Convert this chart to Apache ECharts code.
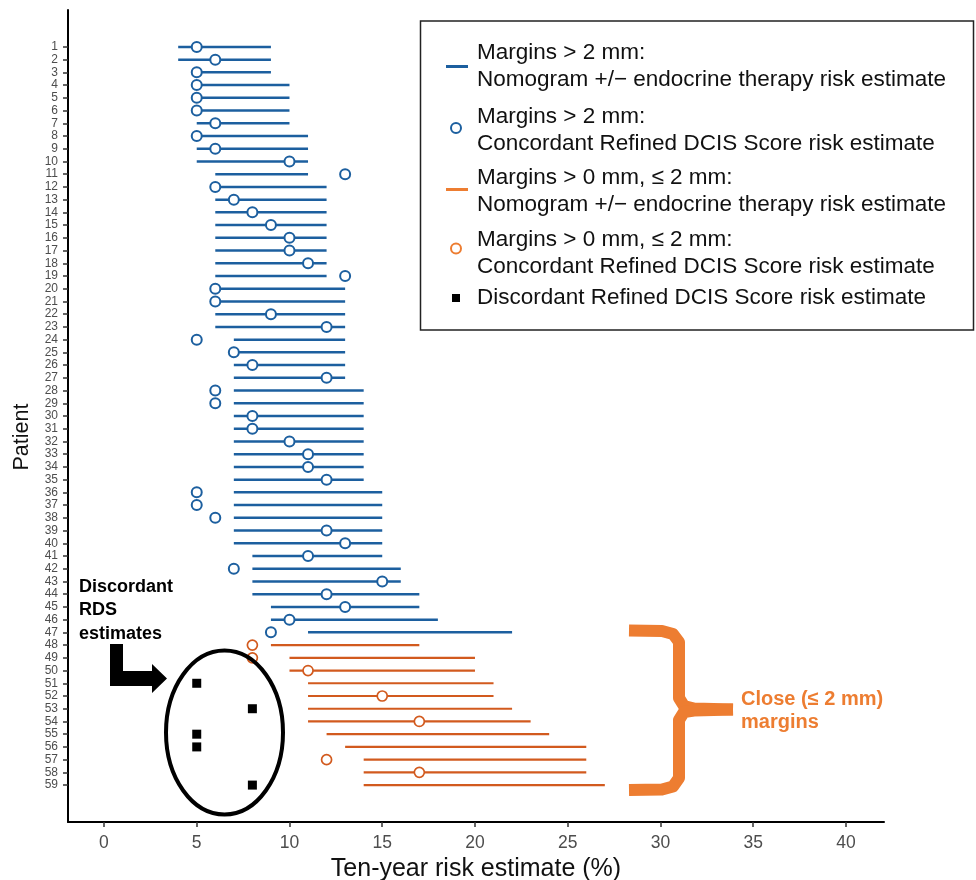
<!DOCTYPE html>
<html>
<head>
<meta charset="utf-8">
<script src="https://cdn.jsdelivr.net/npm/echarts@6/dist/echarts.min.js"></script>
<style>
  html, body { margin: 0; padding: 0; background: #fff; }
  #risk-chart { width: 976px; height: 880px; }
</style>
</head>
<body>
<div id="risk-chart"></div>
<script>
  // patients, nomogram range (+/- endocrine therapy) and Refined DCIS Score
  var patients = [1, 2, 3, 4, 5, 6, 7, 8, 9, 10, 11, 12, 13, 14, 15, 16, 17, 18, 19, 20,
    21, 22, 23, 24, 25, 26, 27, 28, 29, 30, 31, 32, 33, 34, 35, 36, 37, 38, 39, 40,
    41, 42, 43, 44, 45, 46, 47, 48, 49, 50, 51, 52, 53, 54, 55, 56, 57, 58, 59];
  var nomoLow = [4, 4, 5, 5, 5, 5, 5, 5, 5, 5, 6, 6, 6, 6, 6, 6, 6, 6, 6, 6,
    6, 6, 6, 7, 7, 7, 7, 7, 7, 7, 7, 7, 7, 7, 7, 7, 7, 7, 7, 7,
    8, 8, 8, 8, 9, 9, 11, 9, 10, 10, 11, 11, 11, 11, 12, 13, 14, 14, 14];
  var nomoHigh = [9, 9, 9, 10, 10, 10, 10, 11, 11, 11, 11, 12, 12, 12, 12, 12, 12, 12, 12, 13,
    13, 13, 13, 13, 13, 13, 13, 14, 14, 14, 14, 14, 14, 14, 14, 15, 15, 15, 15, 15,
    15, 16, 16, 17, 17, 18, 22, 17, 20, 20, 21, 21, 22, 23, 24, 26, 26, 26, 27];
  var rdsScore = [5, 6, 5, 5, 5, 5, 6, 5, 6, 10, 13, 6, 7, 8, 9, 10, 10, 11, 13, 6,
    6, 9, 12, 5, 7, 8, 12, 6, 6, 8, 8, 10, 11, 11, 12, 5, 5, 6, 12, 13,
    11, 7, 15, 12, 13, 10, 9, 8, 8, 11, 5, 15, 8, 17, 5, 5, 12, 17, 8];
  var closeMarginPatients = [48, 49, 50, 51, 52, 53, 54, 55, 56, 57, 58, 59];
  var discordantPatients = [51, 53, 55, 56, 59];
  var xTicks = [0, 5, 10, 15, 20, 25, 30, 35, 40];

  var BLUE = '#1c5f9f';
  var ORANGE_DARK = '#d25a1e';
  var ORANGE = '#ed7d31';
  var FONT = '"Liberation Sans", Arial, sans-serif';

  var wideRanges = [], closeRanges = [];
  var wideCircles = [], closeCircles = [], discordant = [];
  patients.forEach(function (p, i) {
    var isClose = closeMarginPatients.indexOf(p) >= 0;
    (isClose ? closeRanges : wideRanges).push([nomoLow[i], nomoHigh[i], p]);
    if (discordantPatients.indexOf(p) >= 0) {
      discordant.push([rdsScore[i], p]);
    } else {
      (isClose ? closeCircles : wideCircles).push([rdsScore[i], p]);
    }
  });

  function rangeSeries(data, color, width) {
    return {
      type: 'custom',
      z: 2,
      data: data,
      encode: { x: [0, 1], y: 2 },
      renderItem: function (params, api) {
        var a = api.coord([api.value(0), api.value(2)]);
        var b = api.coord([api.value(1), api.value(2)]);
        return {
          type: 'line',
          shape: { x1: a[0], y1: a[1], x2: b[0], y2: b[1] },
          style: { stroke: color, lineWidth: width }
        };
      }
    };
  }

  function circleSeries(data, color, bw) {
    return {
      type: 'scatter',
      z: 3,
      data: data,
      symbol: 'circle',
      symbolSize: 10,
      itemStyle: { color: '#fff', borderColor: color, borderWidth: bw, opacity: 1 }
    };
  }

  function legendText(x, y, s) {
    return { type: 'text', x: x, y: y, z: 11, style: { text: s, fill: '#111', font: '22.5px ' + FONT, verticalAlign: 'middle' } };
  }

  var chart = echarts.init(document.getElementById('risk-chart'));

  chart.setOption({
    animation: false,
    grid: { left: 68, right: 92, top: 10, bottom: 58, containLabel: false, outerBoundsMode: 'none' },
    xAxis: {
      type: 'value',
      min: -1.94,
      max: 42.05,
      name: 'Ten-year risk estimate (%)',
      nameLocation: 'middle',
      nameGap: 33,
      nameTextStyle: { fontSize: 25, color: '#111', fontFamily: FONT },
      splitLine: { show: false },
      axisLine: { onZero: false, lineStyle: { color: '#000', width: 2 } },
      axisTick: { customValues: xTicks, length: 5, lineStyle: { color: '#333', width: 1.5 } },
      axisLabel: { customValues: xTicks, fontSize: 17.5, color: '#4d4d4d', margin: 12, fontFamily: FONT }
    },
    yAxis: {
      type: 'value',
      inverse: true,
      min: -1.9,
      max: 61.9,
      splitLine: { show: false },
      axisLine: { onZero: false, lineStyle: { color: '#000', width: 2 } },
      axisTick: { customValues: patients, length: 5, lineStyle: { color: '#333', width: 1.5 } },
      axisLabel: { customValues: patients, fontSize: 12, lineHeight: 12, color: '#4d4d4d', margin: 10, fontFamily: FONT, hideOverlap: false }
    },
    series: [
      rangeSeries(wideRanges, BLUE, 2.5),
      rangeSeries(closeRanges, ORANGE_DARK, 2.2),
      circleSeries(wideCircles, BLUE, 2),
      circleSeries(closeCircles, ORANGE_DARK, 1.7),
      {
        type: 'scatter',
        z: 3,
        data: discordant,
        symbol: 'rect',
        symbolSize: 9,
        itemStyle: { color: '#000', opacity: 1 }
      }
    ],
    graphic: [
      // y axis title
      { type: 'text', x: 22, y: 437, rotation: Math.PI / 2, z: 10, style: { text: 'Patient', font: '21.5px ' + FONT, fill: '#111', align: 'center', verticalAlign: 'middle' } },
      // legend box
      { type: 'rect', shape: { x: 420.5, y: 21, width: 553, height: 309 }, style: { fill: '#fff', stroke: '#222', lineWidth: 1.5 }, z: 10 },
      { type: 'line', z: 11, shape: { x1: 446, y1: 66.5, x2: 468, y2: 66.5 }, style: { stroke: BLUE, lineWidth: 3 } },
      legendText(477, 53, 'Margins > 2 mm:'),
      legendText(477, 80, 'Nomogram +/\u2212 endocrine therapy risk estimate'),
      { type: 'circle', z: 11, shape: { cx: 456, cy: 128, r: 5 }, style: { fill: '#fff', stroke: BLUE, lineWidth: 2 } },
      legendText(477, 116.5, 'Margins > 2 mm:'),
      legendText(477, 143.5, 'Concordant Refined DCIS Score risk estimate'),
      { type: 'line', z: 11, shape: { x1: 446, y1: 189.5, x2: 468, y2: 189.5 }, style: { stroke: ORANGE, lineWidth: 3 } },
      legendText(477, 178, 'Margins > 0 mm, \u2264 2 mm:'),
      legendText(477, 205, 'Nomogram +/\u2212 endocrine therapy risk estimate'),
      { type: 'circle', z: 11, shape: { cx: 456, cy: 248.5, r: 5 }, style: { fill: '#fff', stroke: ORANGE, lineWidth: 2 } },
      legendText(477, 239.5, 'Margins > 0 mm, \u2264 2 mm:'),
      legendText(477, 266.5, 'Concordant Refined DCIS Score risk estimate'),
      { type: 'rect', z: 11, shape: { x: 452, y: 294, width: 8, height: 8 }, style: { fill: '#000' } },
      legendText(477, 298, 'Discordant Refined DCIS Score risk estimate'),
      // discordant annotation
      { type: 'text', x: 79, y: 575, z: 10, style: { text: 'Discordant\nRDS\nestimates', font: 'bold 18px ' + FONT, lineHeight: 23.5, fill: '#000', verticalAlign: 'top' } },
      { type: 'polygon', z: 10, shape: { points: [[110, 644], [123, 644], [123, 671], [152, 671], [152, 664], [167, 678.5], [152, 693], [152, 686], [110, 686]] }, style: { fill: '#000' } },
      { type: 'ellipse', z: 10, shape: { cx: 224.5, cy: 732.5, rx: 58.5, ry: 82 }, style: { fill: 'none', stroke: '#000', lineWidth: 4 } },
      // close margins brace
      { type: 'polyline', z: 10, shape: { points: [[629, 630.5], [662, 631], [673, 634], [679, 642], [679, 698], [684, 706], [694, 708.5], [733, 709.5]] },
        style: { stroke: ORANGE, lineWidth: 12, lineJoin: 'round', fill: 'none' } },
      { type: 'polyline', z: 10, shape: { points: [[629, 790], [662, 789.5], [673, 786.5], [679, 778], [679, 720], [684, 712], [694, 710.5], [733, 709.5]] },
        style: { stroke: ORANGE, lineWidth: 12, lineJoin: 'round', fill: 'none' } },
      { type: 'text', x: 741, y: 688, z: 10, style: { text: 'Close (\u2264 2 mm)\nmargins', font: 'bold 20px ' + FONT, lineHeight: 23, fill: ORANGE, verticalAlign: 'top' } }
    ]
  });

  window.addEventListener('resize', function () {
    chart.resize();
  });
</script>
</body>
</html>
